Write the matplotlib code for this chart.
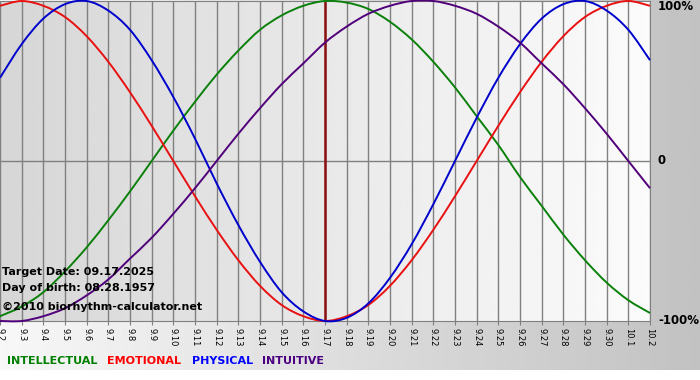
import numpy as np
import matplotlib
matplotlib.use("Agg")
from matplotlib import pyplot as plt
from matplotlib.path import Path
from matplotlib.patches import PathPatch

# dates 9.2 .. 10.2
dates = ["9.%d" % d for d in range(2, 31)] + ["10.1", "10.2"]

# values, one per day (-1 .. 1)
physical = [0.52, 0.73, 0.89, 0.98, 1.00, 0.94, 0.82, 0.63, 0.40, 0.14,
            -0.14, -0.40, -0.63, -0.82, -0.94, -1.00, -0.98, -0.89, -0.73, -0.52,
            -0.27, 0.00, 0.27, 0.52, 0.73, 0.89, 0.98, 1.00, 0.94, 0.82, 0.63]
emotional = [0.97, 1.00, 0.97, 0.90, 0.78, 0.62, 0.43, 0.22, 0.00, -0.22,
             -0.43, -0.62, -0.78, -0.90, -0.97, -1.00, -0.97, -0.90, -0.78, -0.62,
             -0.43, -0.22, 0.00, 0.22, 0.43, 0.62, 0.78, 0.90, 0.97, 1.00, 0.97]
intellectual = [-0.97, -0.91, -0.82, -0.69, -0.54, -0.37, -0.19, 0.00, 0.19, 0.37,
                0.54, 0.69, 0.82, 0.91, 0.97, 1.00, 0.99, 0.95, 0.87, 0.76,
                0.62, 0.46, 0.28, 0.10, -0.10, -0.28, -0.46, -0.62, -0.76, -0.87, -0.95]
intuitive = [-1.00, -1.00, -0.97, -0.92, -0.84, -0.74, -0.61, -0.48, -0.33, -0.17,
             0.00, 0.17, 0.33, 0.48, 0.61, 0.74, 0.84, 0.92, 0.97, 1.00,
             1.00, 0.97, 0.92, 0.84, 0.74, 0.61, 0.48, 0.33, 0.17, 0.00, -0.17]

target_idx = 15  # 9.17
legend_names = ["INTELLECTUAL", "EMOTIONAL", "PHYSICAL", "INTUITIVE"]
legend_colors = ["#008000", "#ff0000", "#0000ff", "#4b0082"]
legend_x = [7, 107, 192, 262]

x = np.arange(len(dates))


def smooth_curve(ax, xs, ys, color):
    # draw the daily points as a smooth bezier line (catmull-rom style)
    p = np.column_stack([xs, ys]).astype(float)
    pp = np.vstack([p[0], p, p[-1]])
    verts = [p[0]]
    codes = [Path.MOVETO]
    for i in range(len(p) - 1):
        c1 = pp[i + 1] + (pp[i + 2] - pp[i]) / 6
        c2 = pp[i + 2] - (pp[i + 3] - pp[i + 1]) / 6
        verts += [c1, c2, pp[i + 2]]
        codes += [Path.CURVE4] * 3
    patch = PathPatch(Path(verts, codes), facecolor="none", edgecolor=color,
                      lw=1.4, zorder=3, clip_on=False)
    ax.add_patch(patch)


fig = plt.figure(figsize=(7, 3.8), dpi=100)
fig.patch.set_facecolor("white")

# background gradient of the whole picture
bg = fig.add_axes([0, 10 / 380, 1, 370 / 380])
bg.imshow(np.linspace(0.97, 0.76, 256).reshape(1, -1), cmap="gray",
          vmin=0, vmax=1, aspect="auto", extent=[0, 1, 0, 1])
bg.axis("off")

ax = fig.add_axes([0, 1 - 321 / 380, 650 / 700, 320 / 380])
ax.set_xlim(0, len(dates) - 1)
ax.set_ylim(-1, 1)
ax.imshow(np.linspace(0.84, 0.985, 256).reshape(1, -1), cmap="gray",
          vmin=0, vmax=1, aspect="auto",
          extent=[0, len(dates) - 1, -1, 1], zorder=0)

for i in x:
    ax.axvline(i, color="#808080", lw=1, zorder=1)
ax.axhline(0, color="#808080", lw=1, zorder=1)
ax.axvline(target_idx, color="#8b1010", lw=1.8, zorder=2)

smooth_curve(ax, x, intellectual, "#0a800a")
smooth_curve(ax, x, emotional, "#e81010")
smooth_curve(ax, x, physical, "#0000cc")
smooth_curve(ax, x, intuitive, "#50007a")

for s in ax.spines.values():
    s.set_color("#808080")
ax.spines["left"].set_visible(False)

ax.set_xticks(x)
ax.set_xticklabels(dates, rotation=270, fontsize=6)
ax.tick_params(axis="x", length=3, color="#808080", pad=2)
ax.set_yticks([])

for py, lab in [(7, "100%"), (161, "0"), (321, "-100%")]:
    fig.text(658 / 700, 1 - py / 380, lab, fontsize=8.5, fontweight="bold",
             va="center", ha="left")

for py, lab in [(272, "Target Date: 09.17.2025"),
                (288, "Day of birth: 08.28.1957"),
                (307, "\u00a92010 biorhythm-calculator.net")]:
    fig.text(2 / 700, 1 - py / 380, lab, fontsize=8, fontweight="bold",
             va="center", ha="left")

for name, col, lx in zip(legend_names, legend_colors, legend_x):
    fig.text(lx / 700, 1 - 361 / 380, name, color=col, fontsize=8,
             fontweight="bold", va="center", ha="left")

fig.savefig("out.png", dpi=100)
